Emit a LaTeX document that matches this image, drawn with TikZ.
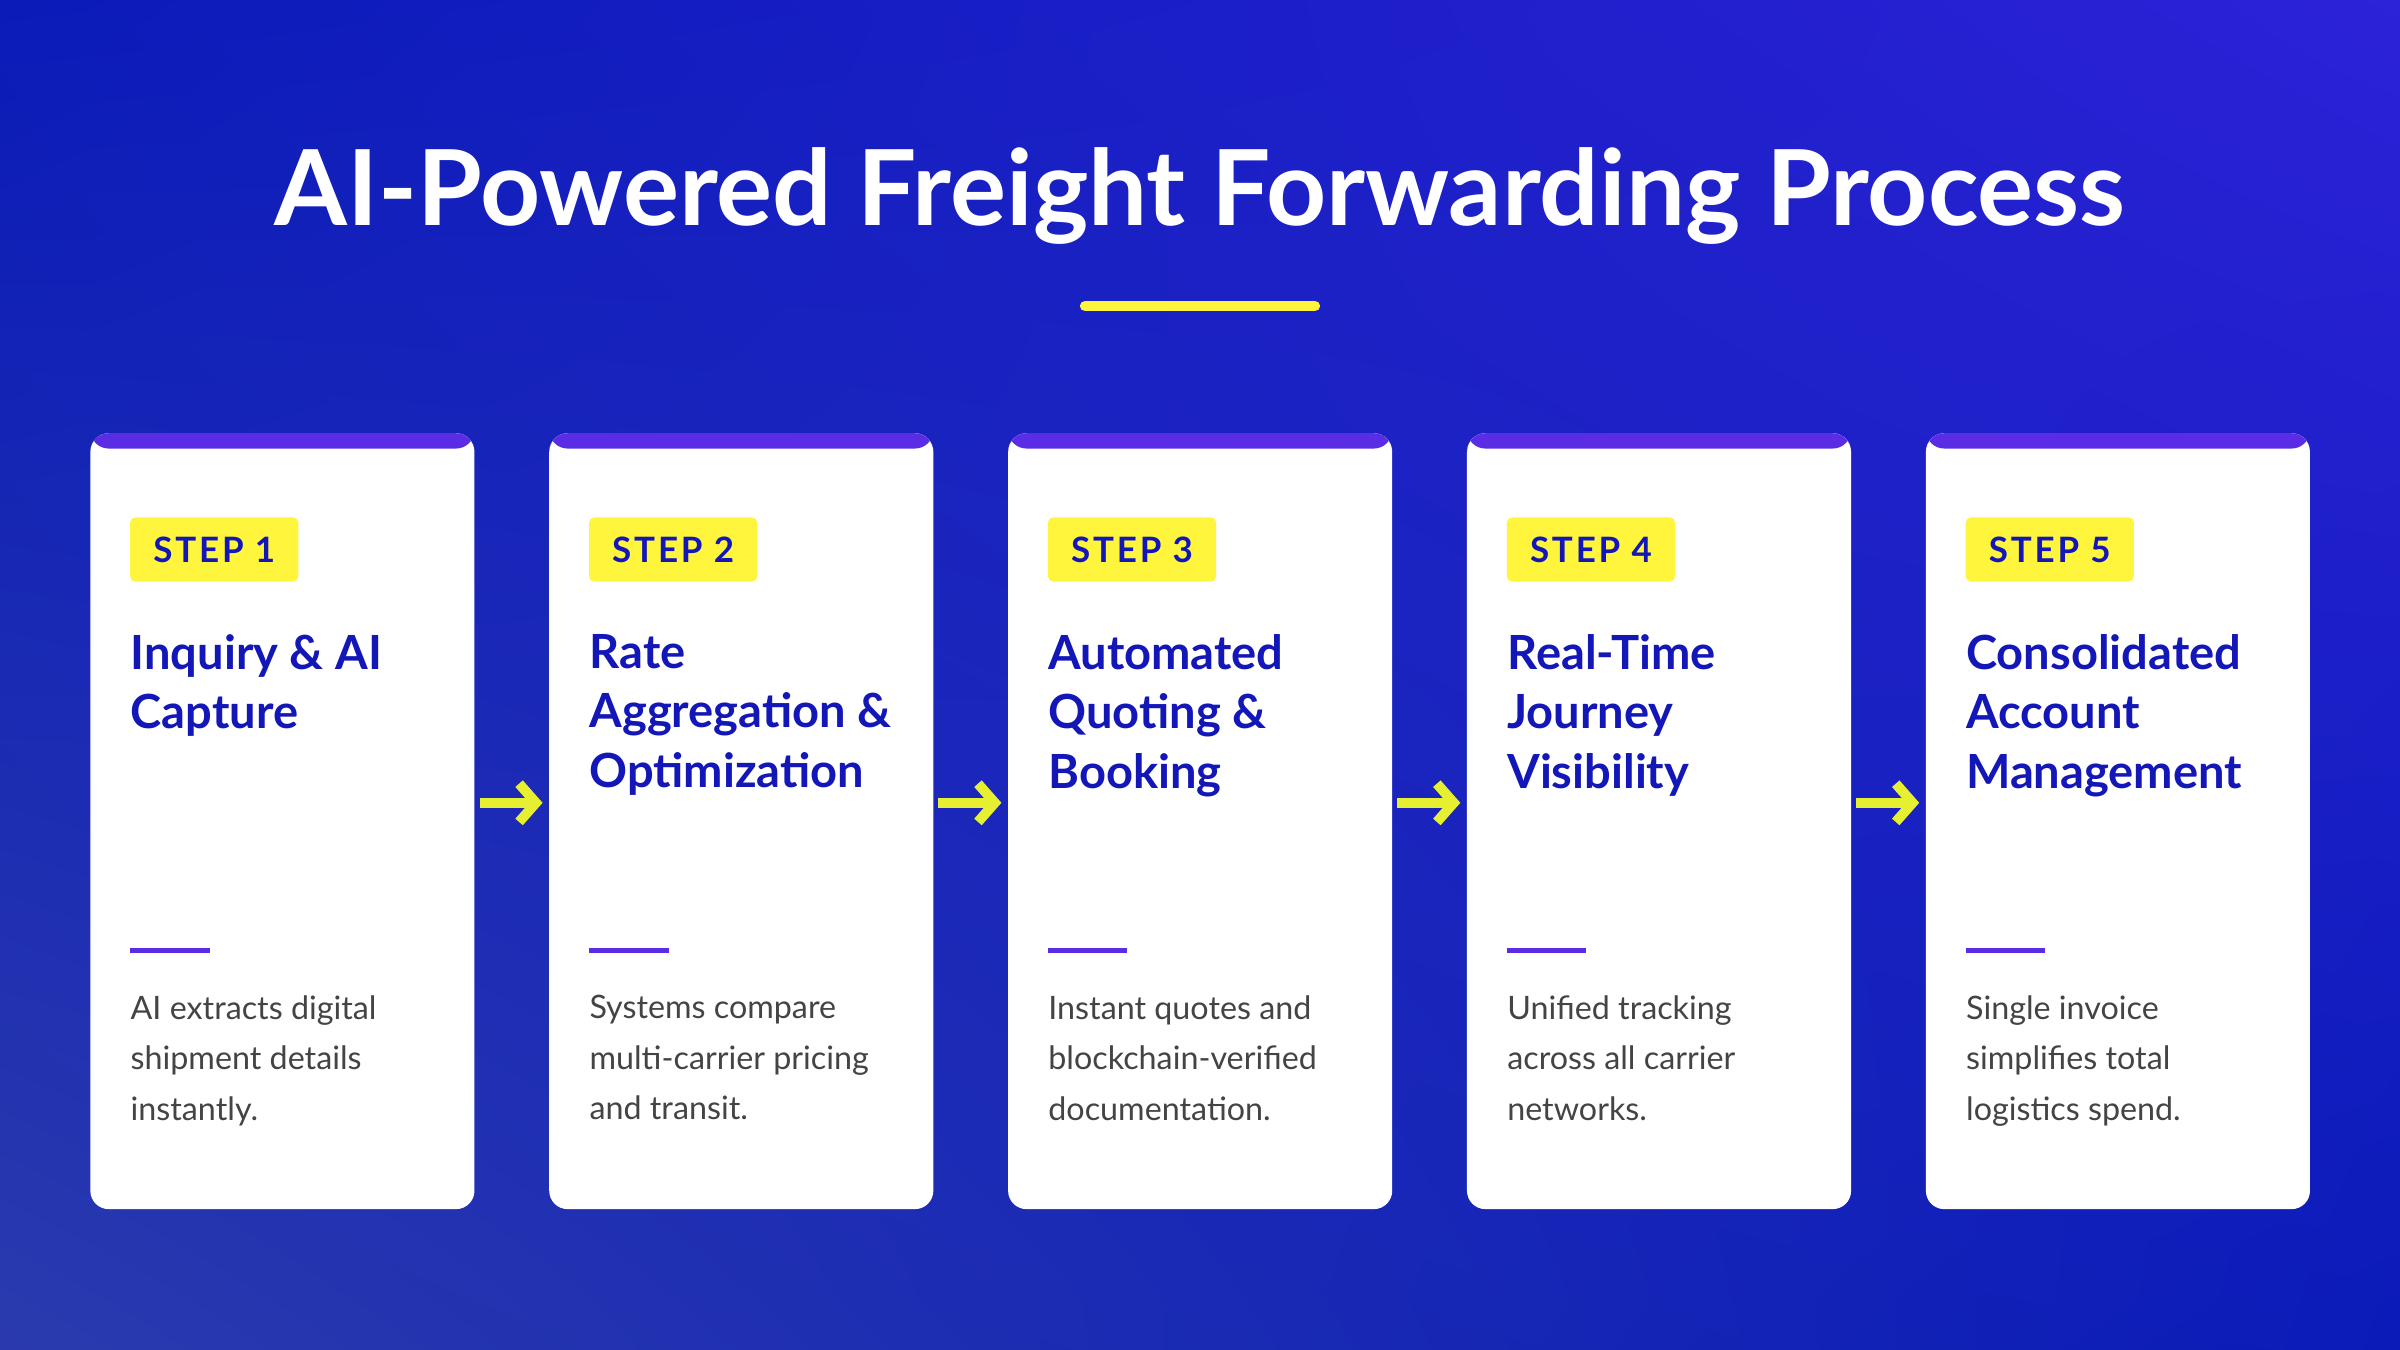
\documentclass[tikz,border=0pt]{standalone}
\usepackage{fontspec}
\setmainfont{Lato}
\usetikzlibrary{arrows.meta,shadings}
\definecolor{deepblue}{HTML}{0A1BB8}
\definecolor{cornerviolet}{HTML}{2C22D8}
\definecolor{cornergrey}{HTML}{2A3AAE}
\definecolor{inkblue}{HTML}{1417B8}
\definecolor{stripe}{HTML}{5A2CE6}
\definecolor{badge}{HTML}{FFF53D}
\definecolor{arrowy}{HTML}{E6F030}
\definecolor{bodygray}{HTML}{444444}
\tikzset{
  card/.style={fill=white, rounded corners=0.24cm, minimum width=5.02cm, minimum height=10.14cm, inner sep=0pt,
    path picture={\fill[stripe] (path picture bounding box.north west) rectangle ([yshift=-0.2cm]path picture bounding box.north east);}},
  stepbadge/.style={fill=badge, rounded corners=2pt, minimum width=2.2cm, minimum height=0.84cm, inner sep=0pt,
    text=inkblue, font=\fontsize{13}{13}\selectfont\bfseries\addfontfeature{LetterSpace=8}},
  heading/.style={anchor=north west, inner sep=0pt, text=inkblue, align=left,
    font=\fontsize{17.5}{22.2}\selectfont\bfseries},
  bodytext/.style={anchor=north west, inner sep=0pt, text=bodygray, align=left,
    font=\fontsize{12}{18.8}\selectfont},
  flow/.style={arrowy, line width=0.13cm, -{Straight Barb[length=0.22cm, width=0.5cm, line width=0.13cm]}}
}
\begin{document}
\begin{tikzpicture}[x=0.02cm, y=-0.02cm]
  % Hintergrund
  \shade[upper left=deepblue, upper right=cornerviolet, lower left=cornergrey, lower right=deepblue]
    (0,0) rectangle (1568,882);
  \useasboundingbox (0,0) rectangle (1568,882);
  % Titel
  \node[text=white, font=\fontsize{39}{39}\selectfont\bfseries] (title) at (784,128) {AI-Powered Freight Forwarding Process};
  \draw[badge, line width=0.14cm, line cap=round] (709,200) -- (859,200);
  % Karten
  \foreach \i/\h/\b in {
      1/{Inquiry \& AI\\Capture}/{AI extracts digital\\shipment details\\instantly.},
      2/{Rate\\Aggregation \&\\Optimization}/{Systems compare\\multi-carrier pricing\\and transit.},
      3/{Automated\\Quoting \&\\Booking}/{Instant quotes and\\blockchain-verified\\documentation.},
      4/{Real-Time\\Journey\\Visibility}/{Unified tracking\\across all carrier\\networks.},
      5/{Consolidated\\Account\\Management}/{Single invoice\\simplifies total\\logistics spend.}}
  {
    \pgfmathsetmacro{\dx}{(\i-1)*299.8}
    \begin{scope}[xshift=\dx*0.02cm]
      \node[card] (card\i) at (184.5,536.5) {};
      \node[stepbadge] (badge\i) at (140,359) {STEP \i};
      \node[heading] (head\i) at (85,414) {\h};
      \draw[stripe, line width=0.07cm] (85,621) -- (137,621);
      \node[bodytext] (body\i) at (85,650) {\b};
    \end{scope}
  }
  % Pfeile
  \foreach \i [count=\j from 2] in {1,...,4}
    \draw[flow] ([shift={(3,-12)}]card\i.east) -- ([shift={(-4,-12)}]card\j.west);
\end{tikzpicture}
\end{document}
